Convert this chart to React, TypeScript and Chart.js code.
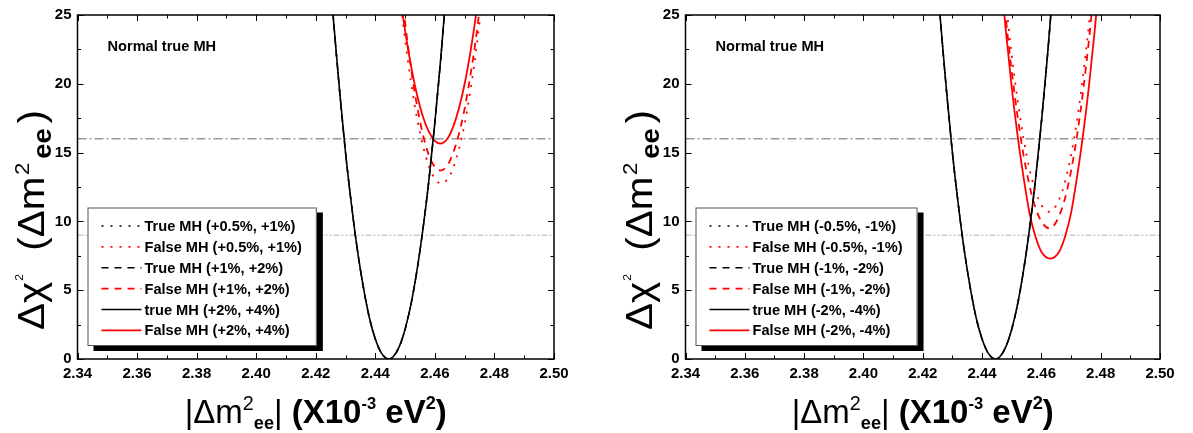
import React, { useEffect, useRef } from 'react';
import { Chart, registerables } from 'chart.js';

Chart.register(...registerables);

const FONT = '"Liberation Sans", Arial, Helvetica, sans-serif';

// ---- axes ----
const xTicks = [2.34, 2.36, 2.38, 2.4, 2.42, 2.44, 2.46, 2.48, 2.5];
const xMinorTicks = [2.35, 2.37, 2.39, 2.41, 2.43, 2.45, 2.47, 2.49];
const yTicks = [0, 5, 10, 15, 20, 25];
const yMinorTicks = [2.5, 7.5, 12.5, 17.5, 22.5];
const refLevels = [16, 9];

// ---- true mass hierarchy curve (same in both panels) ----
const trueX = [2.424, 2.426, 2.428, 2.43, 2.432, 2.434, 2.436, 2.438, 2.44, 2.442, 2.4445, 2.446, 2.448, 2.45, 2.452, 2.454, 2.456, 2.458, 2.46, 2.462, 2.464];
const trueY = [30.0, 24.5, 19.5, 15.0, 11.2, 7.9, 5.2, 3.0, 1.45, 0.45, 0.0, 0.16, 0.88, 2.16, 4.0, 6.45, 9.45, 13.0, 17.2, 21.9, 27.2];

// ---- left panel: false MH, positive shifts ----
const falsePos05X = [2.448, 2.45, 2.452, 2.454, 2.456, 2.458, 2.46, 2.4622, 2.464, 2.466, 2.468, 2.47, 2.472, 2.474, 2.476];
const falsePos05Y = [26.9, 23.2, 20.1, 17.5, 15.5, 14.0, 13.1, 12.75, 13.0, 13.8, 15.2, 17.1, 19.6, 22.7, 26.3];
const falsePos1X = [2.448, 2.45, 2.452, 2.454, 2.456, 2.458, 2.46, 2.4618, 2.464, 2.466, 2.468, 2.47, 2.472, 2.474, 2.476];
const falsePos1Y = [28.4, 24.45, 21.1, 18.4, 16.3, 14.8, 13.95, 13.7, 14.0, 14.9, 16.3, 18.2, 20.7, 23.65, 27.2];
const falsePos2X = [2.448, 2.45, 2.452, 2.454, 2.456, 2.458, 2.46, 2.4618, 2.464, 2.466, 2.468, 2.47, 2.472, 2.474, 2.476];
const falsePos2Y = [26.9, 23.85, 21.3, 19.2, 17.6, 16.5, 15.85, 15.65, 15.95, 16.8, 18.15, 20.0, 22.4, 25.3, 28.7];

// ---- right panel: false MH, negative shifts ----
const falseNeg05X = [2.446, 2.448, 2.45, 2.452, 2.454, 2.456, 2.458, 2.46, 2.4626, 2.464, 2.466, 2.468, 2.47, 2.472, 2.474, 2.476, 2.478];
const falseNeg05Y = [30.5, 26.0, 22.1, 18.8, 16.0, 13.8, 12.2, 11.2, 10.7, 10.85, 11.6, 12.9, 14.8, 17.3, 20.5, 24.2, 28.5];
const falseNeg1X = [2.446, 2.448, 2.45, 2.452, 2.454, 2.456, 2.458, 2.46, 2.4626, 2.464, 2.466, 2.468, 2.47, 2.472, 2.474, 2.476, 2.478];
const falseNeg1Y = [29.3, 24.8, 20.9, 17.6, 14.8, 12.6, 11.0, 10.0, 9.5, 9.65, 10.4, 11.7, 13.65, 16.2, 19.35, 23.1, 27.5];
const falseNeg2X = [2.446, 2.448, 2.45, 2.452, 2.454, 2.456, 2.458, 2.46, 2.463, 2.466, 2.468, 2.47, 2.472, 2.474, 2.476, 2.478, 2.48];
const falseNeg2Y = [28.6, 23.9, 19.75, 16.2, 13.2, 10.6, 8.9, 7.8, 7.3, 7.8, 8.9, 10.6, 13.2, 16.2, 19.75, 23.9, 28.6];

const leftLabels = ['True MH (+0.5%, +1%)', 'False MH (+0.5%, +1%)', 'True MH (+1%, +2%)', 'False MH (+1%, +2%)', 'true MH (+2%, +4%)', 'False MH (+2%, +4%)'];
const rightLabels = ['True MH (-0.5%, -1%)', 'False MH (-0.5%, -1%)', 'True MH (-1%, -2%)', 'False MH (-1%, -2%)', 'true MH (-2%, -4%)', 'False MH (-2%, -4%)'];
const annotation = 'Normal true MH';

const DOT = [2, 7];
const DASH = [7, 6];

const pts = (xs: number[], ys: number[]) => xs.map((x, i) => ({ x, y: ys[i] }));

type Seg = { t: string; s: number; dy?: number; bold?: boolean; gap?: number };

const xTitle: Seg[] = [
  { t: '|\u0394m', s: 1 },
  { t: '2', s: 0.6, dy: -0.38 },
  { t: 'ee', s: 0.55, dy: 0.18, bold: true },
  { t: '| ', s: 1 },
  { t: '(X10', s: 1, bold: true },
  { t: '-3', s: 0.5, dy: -0.42, bold: true },
  { t: ' eV', s: 1, bold: true },
  { t: '2', s: 0.55, dy: -0.42, bold: true },
  { t: ')', s: 1, bold: true },
];
const yTitle: Seg[] = [
  { t: '\u0394', s: 1 },
  { t: '\u03c7', s: 1, gap: 0.03 },
  { t: '2', s: 0.3, dy: -0.55, gap: 0.3 },
  { t: ' (', s: 1 },
  { t: '\u0394m', s: 1, gap: 0.04 },
  { t: '2', s: 0.55, dy: -0.4, gap: 0.1 },
  { t: 'ee', s: 0.68, dy: 0.2, bold: true, gap: 0.12 },
  { t: ')', s: 1 },
];

function drawRich(ctx: CanvasRenderingContext2D, segs: Seg[], F: number, along: number, base: number, rotate: boolean, fitLen?: number) {
  ctx.save();
  const fontOf = (sg: Seg) => `${sg.bold ? 'bold ' : ''}${sg.s * F}px ${FONT}`;
  let total = 0;
  const widths = segs.map((sg) => {
    ctx.font = fontOf(sg);
    const w = ctx.measureText(sg.t).width + (sg.gap || 0) * F;
    total += w;
    return w;
  });
  if (rotate) {
    ctx.translate(base, along);
    ctx.rotate(-Math.PI / 2);
  } else {
    ctx.translate(along, base);
  }
  if (fitLen) ctx.scale(fitLen / total, 1);
  ctx.textAlign = 'left';
  ctx.textBaseline = 'alphabetic';
  ctx.fillStyle = '#000';
  let x = -total / 2;
  segs.forEach((sg, i) => {
    ctx.font = fontOf(sg);
    ctx.fillText(sg.t, x, (sg.dy || 0) * F);
    x += widths[i];
  });
  ctx.restore();
}

const decorPlugin = {
  id: 'decor',
  afterDatasetsDraw(chart: any) {
    const ctx: CanvasRenderingContext2D = chart.ctx;
    const a = chart.chartArea;
    const xs = chart.scales.x;
    const ys = chart.scales.y;
    ctx.save();
    // legend
    const items = chart.data.datasets.filter((d: any) => d.inLegend);
    const LF = 14.6;
    ctx.font = `bold ${LF}px ${FONT}`;
    const maxW = Math.max(...items.map((d: any) => ctx.measureText(d.label).width));
    const bx = a.left + 10;
    const by = a.top + 192.5;
    const bw = 57 + maxW + 15;
    const bh = 138.5;
    ctx.fillStyle = '#000';
    ctx.fillRect(bx + 6, by + 5, bw, bh);
    ctx.fillStyle = '#fff';
    ctx.fillRect(bx, by, bw, bh);
    ctx.strokeStyle = '#555';
    ctx.lineWidth = 1;
    ctx.strokeRect(bx + 0.5, by + 0.5, bw - 1, bh - 1);
    items.forEach((d: any, i: number) => {
      const cy = by + 18.4 + i * 20.9;
      ctx.beginPath();
      ctx.setLineDash(d.borderDash || []);
      ctx.strokeStyle = d.borderColor;
      ctx.lineWidth = d.borderWidth;
      ctx.moveTo(bx + 14, cy);
      ctx.lineTo(bx + 54, cy);
      ctx.stroke();
      ctx.setLineDash([]);
      ctx.fillStyle = '#000';
      ctx.textAlign = 'left';
      ctx.textBaseline = 'middle';
      ctx.font = `bold ${LF}px ${FONT}`;
      ctx.fillText(d.label, bx + 57, cy + 1);
    });
    // annotation
    ctx.font = `bold ${LF}px ${FONT}`;
    ctx.textBaseline = 'middle';
    ctx.fillText(annotation, a.left + 30, a.top + 31.5);
    // frame
    ctx.strokeStyle = '#000';
    ctx.lineWidth = 1.5;
    ctx.strokeRect(a.left, a.top, a.right - a.left, a.bottom - a.top);
    // inward ticks on all four sides
    ctx.lineWidth = 1;
    const tick = (vals: number[], len: number) => {
      vals.forEach((v) => {
        const px = Math.round(xs.getPixelForValue(v)) + 0.5;
        ctx.beginPath();
        ctx.moveTo(px, a.bottom);
        ctx.lineTo(px, a.bottom - len);
        ctx.moveTo(px, a.top);
        ctx.lineTo(px, a.top + len);
        ctx.stroke();
      });
    };
    const tickY = (vals: number[], len: number) => {
      vals.forEach((v) => {
        const py = Math.round(ys.getPixelForValue(v)) + 0.5;
        ctx.beginPath();
        ctx.moveTo(a.left, py);
        ctx.lineTo(a.left + len, py);
        ctx.moveTo(a.right, py);
        ctx.lineTo(a.right - len, py);
        ctx.stroke();
      });
    };
    tick(xTicks, 6);
    tick(xMinorTicks, 3.5);
    tickY(yTicks, 6);
    tickY(yMinorTicks, 3.5);
    // titles
    drawRich(ctx, xTitle, 33, (a.left + a.right) / 2, 423, false);
    drawRich(ctx, yTitle, 37, 220, a.left - 34, true, 220);
    ctx.restore();
  },
};

function curve(label: string, color: string, dash: number[], width: number, data: any[]) {
  return {
    label,
    data,
    borderColor: color,
    backgroundColor: color,
    borderDash: dash,
    borderWidth: width,
    pointRadius: 0,
    showLine: true,
    cubicInterpolationMode: 'monotone',
    fill: false,
    inLegend: true,
  };
}

function refLine(level: number, color: string, dash: number[]) {
  return {
    label: '',
    data: [{ x: xTicks[0], y: level }, { x: xTicks[xTicks.length - 1], y: level }],
    borderColor: color,
    borderDash: dash,
    borderWidth: 1,
    pointRadius: 0,
    showLine: true,
    fill: false,
    inLegend: false,
  };
}

function makeConfig(labels: string[], f05: any[], f1: any[], f2: any[], plotLeft: number, padRight: number) {
  const tr = pts(trueX, trueY);
  return {
    type: 'scatter',
    data: {
      datasets: [
        curve(labels[0], '#000', DOT, 1.5, tr),
        curve(labels[1], '#ff0000', DOT, 1.8, f05),
        curve(labels[2], '#000', DASH, 1.5, tr),
        curve(labels[3], '#ff0000', DASH, 1.8, f1),
        curve(labels[4], '#000', [], 1.6, tr),
        curve(labels[5], '#ff0000', [], 1.8, f2),
        refLine(refLevels[0], '#666', [9, 3, 2, 3]),
        refLine(refLevels[1], '#b0b0b0', [6, 2, 2, 2, 2, 2]),
      ],
    },
    options: {
      animation: false,
      responsive: false,
      layout: { padding: { left: 0, top: 11, right: padRight, bottom: 0 } },
      plugins: { legend: { display: false }, tooltip: { enabled: false } },
      scales: {
        x: {
          type: 'linear',
          min: xTicks[0],
          max: xTicks[xTicks.length - 1],
          grid: { display: false, drawTicks: false },
          border: { display: false },
          afterBuildTicks: (s: any) => {
            s.ticks = xTicks.map((v) => ({ value: v }));
          },
          afterFit: (s: any) => {
            s.height = 433 - 359;
          },
          ticks: {
            padding: 6,
            color: '#000',
            font: { family: FONT, size: 15, weight: 'bold' },
            callback: (v: any) => Number(v).toFixed(2),
          },
        },
        y: {
          type: 'linear',
          min: yTicks[0],
          max: yTicks[yTicks.length - 1],
          grid: { display: false, drawTicks: false },
          border: { display: false },
          afterBuildTicks: (s: any) => {
            s.ticks = yTicks.map((v) => ({ value: v }));
          },
          afterFit: (s: any) => {
            s.width = plotLeft;
          },
          ticks: {
            padding: 6,
            color: '#000',
            font: { family: FONT, size: 15, weight: 'bold' },
            callback: (v: any) => String(v),
          },
        },
      },
    },
    plugins: [decorPlugin],
  };
}

function Panel({ cfg, left, width }: { cfg: () => any; left: number; width: number }) {
  const ref = useRef<HTMLCanvasElement>(null);
  useEffect(() => {
    if (!ref.current) return;
    const chart = new Chart(ref.current, cfg());
    return () => chart.destroy();
  }, []);
  return (
    <canvas
      ref={ref}
      width={width}
      height={433}
      style={{ position: 'absolute', left, top: 0, width, height: 433 }}
    />
  );
}

export default function App() {
  return (
    <div style={{ position: 'absolute', left: 0, top: 0, width: 1193, height: 433, background: '#fff', overflow: 'hidden' }}>
      <Panel
        left={0}
        width={596}
        cfg={() => makeConfig(leftLabels, pts(falsePos05X, falsePos05Y), pts(falsePos1X, falsePos1Y), pts(falsePos2X, falsePos2Y), 77.5, 596 - 554)}
      />
      <Panel
        left={596}
        width={597}
        cfg={() => makeConfig(rightLabels, pts(falseNeg05X, falseNeg05Y), pts(falseNeg1X, falseNeg1Y), pts(falseNeg2X, falseNeg2Y), 89.5, 597 - 564)}
      />
    </div>
  );
}
